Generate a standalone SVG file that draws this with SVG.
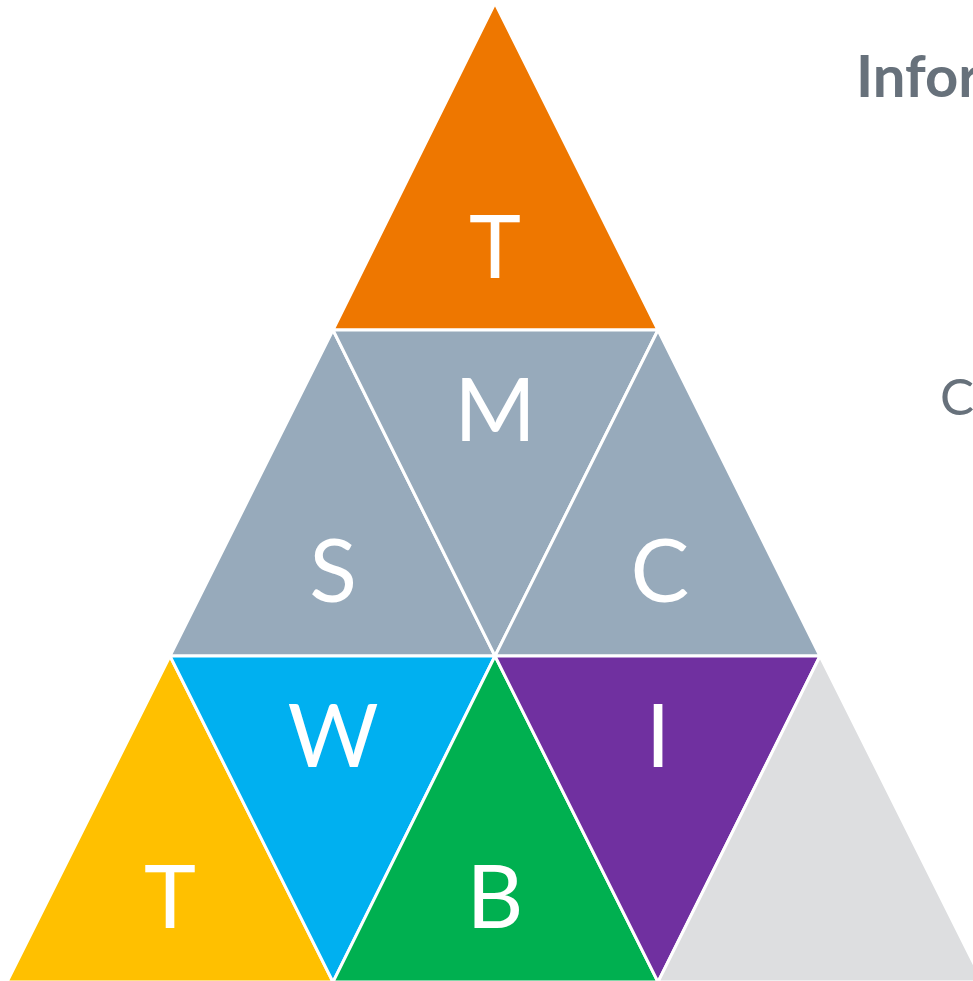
<svg xmlns="http://www.w3.org/2000/svg" width="973" height="981" viewBox="0 0 973 981">
<style>
.tri{stroke:#ffffff;stroke-width:3;stroke-linejoin:miter}
.lbl{font-family:Lato,"Open Sans","Liberation Sans",sans-serif;font-size:88px;fill:#ffffff;text-anchor:middle}
.side{font-family:Lato,"Open Sans","Liberation Sans",sans-serif;fill:#67717B}
</style>
<rect width="973" height="981" fill="#ffffff"/>
<g id="connectors"></g>
<g id="n-top"><polygon class="tri" fill="#EE7700" points="495,3 333,330 658,330"/><text class="lbl" x="495" y="278">T</text></g>
<g id="n-s"><polygon class="tri" fill="#97AABB" points="333,330 170,656 495,656"/><text class="lbl" x="333" y="602">S</text></g>
<g id="n-m"><polygon class="tri" fill="#97AABB" points="333,330 658,330 495,656"/><text class="lbl" x="495" y="441">M</text></g>
<g id="n-c"><polygon class="tri" fill="#97AABB" points="658,330 495,656 820,656"/><text class="lbl" x="660" y="602">C</text></g>
<g id="n-t2"><polygon class="tri" fill="#FFC000" points="170,656 7,982 333,982"/><text class="lbl" x="170" y="928">T</text></g>
<g id="n-w"><polygon class="tri" fill="#00B0F0" points="170,656 495,656 333,982"/><text class="lbl" x="333" y="767">W</text></g>
<g id="n-b"><polygon class="tri" fill="#00B050" points="495,656 333,982 658,982"/><text class="lbl" x="495" y="928">B</text></g>
<g id="n-i"><polygon class="tri" fill="#7030A0" points="495,656 820,656 658,982"/><text class="lbl" x="658" y="767">I</text></g>
<g id="n-gray"><polygon class="tri" fill="#DDDEE0" points="820,656 658,982 983,982"/></g>
<g id="n-title"><text class="side" x="856" y="97" font-size="58" font-weight="bold">Infor</text></g>
<g id="n-c-side"><text class="side" x="940" y="415" font-size="51">C</text></g>
</svg>
